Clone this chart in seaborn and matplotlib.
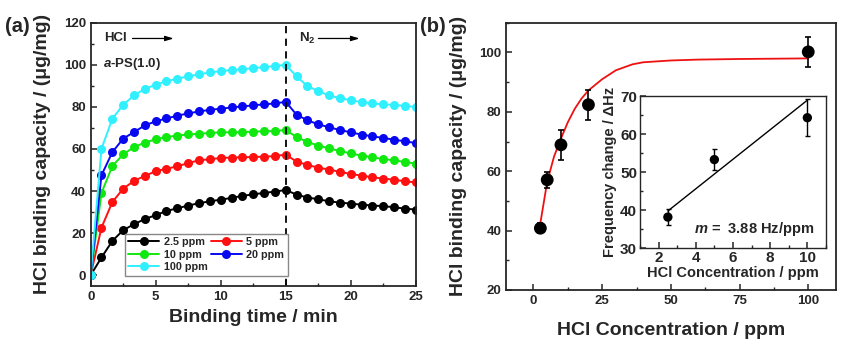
import numpy as np
import pandas as pd
import matplotlib
matplotlib.use('Agg')
import matplotlib.pyplot as plt
from matplotlib.ticker import MultipleLocator, AutoMinorLocator
import seaborn as sns

sns.set_style('ticks')
plt.rcParams.update({'font.family'       : ['Liberation Sans', 'DejaVu Sans'],
                     'font.weight'       : 'bold',
                     'axes.labelweight'  : 'bold',
                     'axes.linewidth'    : 1.3,
                     'xtick.direction'   : 'in',
                     'ytick.direction'   : 'in',
                     'xtick.major.size'  : 4,
                     'ytick.major.size'  : 4,
                     'xtick.minor.size'  : 2.5,
                     'ytick.minor.size'  : 2.5,
                     'xtick.major.width' : 1.1,
                     'ytick.major.width' : 1.1,
                     'xtick.minor.width' : 1.0,
                     'ytick.minor.width' : 1.0,
                     'mathtext.fontset'  : 'custom',
                     'mathtext.rm'       : 'Liberation Sans:bold',
                     'mathtext.bf'       : 'Liberation Sans:bold',
                     'mathtext.it'       : 'Liberation Sans:bold:italic'})

#-- (a) binding kinetics, one reading every 50 s --
time_min = [0.00, 0.83, 1.67, 2.50, 3.33, 4.17, 5.00, 5.83, 6.67, 7.50, 8.33,
            9.17, 10.00, 10.83, 11.67, 12.50, 13.33, 14.17, 15.00, 15.83, 16.67,
            17.50, 18.33, 19.17, 20.00, 20.83, 21.67, 22.50, 23.33, 24.17, 25.00]
cap_2p5 = [0.0, 8.4, 16.3, 21.4, 24.2, 26.7, 28.5, 30.5, 31.8, 33.1, 34.2,
           35.1, 35.9, 36.7, 37.7, 38.4, 39.1, 39.7, 40.5, 38.3, 36.9,
           36.1, 35.1, 34.5, 34.0, 33.5, 33.1, 32.8, 32.3, 31.6, 31.2]
cap_5 = [0.0, 22.6, 34.8, 41.1, 44.8, 47.2, 49.4, 50.6, 51.7, 53.3, 54.6,
         55.1, 55.7, 55.9, 56.0, 56.2, 56.3, 56.6, 57.3, 54.0, 52.4,
         51.1, 50.2, 49.1, 48.1, 47.3, 46.5, 45.9, 45.4, 44.6, 44.1]
cap_10 = [0.0, 39.1, 51.9, 57.4, 60.9, 63.0, 64.6, 65.7, 66.3, 66.9, 67.2,
          67.6, 67.9, 67.9, 68.0, 68.2, 68.4, 68.5, 69.0, 65.7, 63.3,
          61.6, 60.3, 59.0, 57.9, 56.8, 56.0, 55.2, 54.6, 53.8, 53.0]
cap_20 = [0.0, 47.5, 58.5, 64.9, 68.0, 71.2, 73.1, 74.5, 75.8, 76.9, 77.8,
          78.6, 79.1, 79.7, 80.2, 80.7, 81.2, 81.6, 82.4, 76.3, 73.6,
          71.7, 70.3, 69.0, 67.9, 66.8, 66.0, 65.2, 64.4, 63.6, 62.8]
cap_100 = [0.0, 60.1, 74.4, 81.0, 85.4, 88.6, 90.5, 92.2, 93.4, 94.5, 95.4,
           96.4, 97.0, 97.5, 97.9, 98.4, 98.9, 99.4, 100.0, 94.5, 89.9,
           87.5, 85.4, 84.2, 83.1, 82.3, 81.6, 81.2, 80.9, 80.5, 79.9]
series_labels = ['2.5 ppm', '5 ppm', '10 ppm', '20 ppm', '100 ppm']
series_colors = ['#000000', '#FF1010', '#10E810', '#0808F0', '#30F0FF']

#-- (b) capacity vs concentration --
conc_ppm  = [2.5, 5, 10, 20, 100]
cap_mean  = [40.8, 57.1, 68.9, 82.4, 100.2]
cap_err   = [1.6, 2.8, 5.0, 5.0, 5.0]
fit_x     = [2.5, 5, 7.5, 10, 12.5, 15, 17.5, 20, 25, 30, 36, 40, 50, 60, 75, 100]
fit_y     = [42.5, 56.5, 65.0, 71.0, 76.5, 81.0, 84.5, 87.2, 91.0, 94.0, 96.0,
             96.7, 97.3, 97.6, 97.8, 98.0]

#-- inset: frequency change --
ins_conc  = [2.5, 5, 10]
ins_freq  = [38.2, 53.3, 64.3]
ins_err   = [2.0, 2.7, 4.8]
ins_line_x = [2.5, 10]
ins_line_y = [39.8, 68.9]

df_kin = pd.concat([pd.DataFrame({'time': time_min, 'cap': c, 'conc': lab})
                    for c, lab in zip([cap_2p5, cap_5, cap_10, cap_20, cap_100], series_labels)])

fig = plt.figure(figsize=(8.5, 3.53), dpi=100)
ax1 = fig.add_axes([0.1067, 0.1907, 0.3824, 0.745])
ax2 = fig.add_axes([0.5953, 0.1785, 0.3879, 0.757])
ax3 = fig.add_axes([0.7529, 0.2966, 0.2188, 0.4314])

#-- panel (a) --
sns.lineplot(data=df_kin, x='time', y='cap', hue='conc', hue_order=series_labels,
             palette=series_colors, marker='o', markersize=6.5, markeredgewidth=0,
             linewidth=1.4, legend=False, sort=False, ax=ax1)
ax1.axvline(x=15, color='black', linestyle=(0, (4, 3)), linewidth=1.3)
ax1.set_xlim(0, 25)
ax1.set_ylim(-5, 120)
ax1.xaxis.set_major_locator(MultipleLocator(5))
ax1.xaxis.set_minor_locator(AutoMinorLocator(2))
ax1.yaxis.set_major_locator(MultipleLocator(20))
ax1.yaxis.set_minor_locator(AutoMinorLocator(2))
ax1.tick_params(labelsize=9.5, top=False, right=False)
ax1.set_xlabel('Binding time / min', fontsize=14, labelpad=5)
ax1.set_ylabel('HCl binding capacity / (\u03bcg/mg)', fontsize=14, labelpad=9)

lines = ax1.lines[:5]
order = [0, 2, 4, 1, 3]
leg = ax1.legend([lines[i] for i in order], [series_labels[i] for i in order],
                 ncol=2, loc='lower left', bbox_to_anchor=(0.088, 0.018),
                 fontsize=7.8, handlelength=2.9, handletextpad=0.4,
                 columnspacing=0.3, labelspacing=0.25, borderpad=0.3,
                 fancybox=False, framealpha=1, edgecolor='#888888')
leg.get_frame().set_linewidth(1.0)

ax1.text(1.0, 112.5, 'HCl', fontsize=9.5, va='center', ha='left')
ax1.annotate('', xy=(6.6, 112.5), xytext=(3.0, 112.5),
             arrowprops=dict(arrowstyle='-|>,head_length=0.5,head_width=0.15', color='black', lw=0.9))
ax1.text(16.0, 112.5, r'N$_\mathbf{2}$', fontsize=9.5, va='center', ha='left')
ax1.annotate('', xy=(20.9, 112.5), xytext=(17.3, 112.5),
             arrowprops=dict(arrowstyle='-|>,head_length=0.5,head_width=0.15', color='black', lw=0.9))
ax1.text(0.95, 100.5, r'$\mathit{a}$-PS(1.0)', fontsize=9.5, va='center', ha='left')
fig.text(0.006, 0.925, '(a)', fontsize=14.5, fontweight='bold', va='center', ha='left')

#-- panel (b) --
sns.lineplot(x=fit_x, y=fit_y, color='#EE1111', linewidth=1.3, ax=ax2)
ax2.errorbar(conc_ppm, cap_mean, yerr=cap_err, fmt='none', ecolor='black',
             elinewidth=1.2, capsize=2.2, capthick=1.2)
sns.scatterplot(x=conc_ppm, y=cap_mean, color='black', s=85, edgecolor='none', ax=ax2, zorder=5)
ax2.set_xlim(-10, 110)
ax2.set_ylim(20, 110)
ax2.xaxis.set_major_locator(MultipleLocator(25))
ax2.xaxis.set_minor_locator(AutoMinorLocator(2))
ax2.yaxis.set_major_locator(MultipleLocator(20))
ax2.yaxis.set_minor_locator(AutoMinorLocator(2))
ax2.tick_params(labelsize=9.5, top=False, right=False)
ax2.set_xlabel('HCl Concentration / ppm', fontsize=14, labelpad=11)
ax2.set_ylabel('HCl binding capacity / (\u03bcg/mg)', fontsize=14, labelpad=9)
fig.text(0.494, 0.925, '(b)', fontsize=14.5, fontweight='bold', va='center', ha='left')

#-- inset --
sns.lineplot(x=ins_line_x, y=ins_line_y, color='black', linewidth=1.0, ax=ax3)
ax3.errorbar(ins_conc, ins_freq, yerr=ins_err, fmt='none', ecolor='black',
             elinewidth=1.0, capsize=1.8, capthick=1.0)
sns.scatterplot(x=ins_conc, y=ins_freq, color='black', s=45, edgecolor='none', ax=ax3, zorder=5)
ax3.set_xlim(1, 11)
ax3.set_ylim(30, 70)
ax3.xaxis.set_major_locator(MultipleLocator(2))
ax3.xaxis.set_minor_locator(AutoMinorLocator(2))
ax3.yaxis.set_major_locator(MultipleLocator(10))
ax3.yaxis.set_minor_locator(AutoMinorLocator(2))
ax3.tick_params(labelsize=11, pad=2, top=False, right=False)
for s in ax3.spines.values():
    s.set_linewidth(1.0)
ax3.set_xlabel('HCl Concentration / ppm', fontsize=10.5, labelpad=1)
ax3.set_ylabel('Frequency change / \u0394Hz', fontsize=10.5, labelpad=2)
ax3.text(10.35, 35.1, r'$\mathit{m}$ =  3.88 Hz/ppm', fontsize=10.5, ha='right', va='center')

plt.savefig('out.png', dpi=100)
